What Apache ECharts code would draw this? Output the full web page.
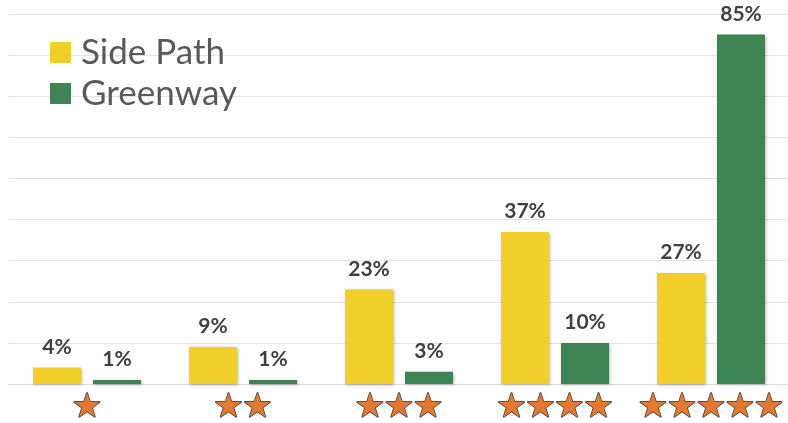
<!DOCTYPE html>
<html><head><meta charset="utf-8">
<script src="https://cdn.jsdelivr.net/npm/echarts@6/dist/echarts.min.js"></script>
<style>html,body{margin:0;padding:0;background:#fff}#c{width:788px;height:423px}</style>
</head><body><div id="c"></div>
<script>
const starCounts = [1, 2, 3, 4, 5];
const sidePath = [4, 9, 23, 37, 27];
const greenway = [1, 1, 3, 10, 85];
const seriesNames = ['Side Path', 'Greenway'];

const chart = echarts.init(document.getElementById('c'));
const labelStyle = {
  show: true, position: 'top', distance: 10,
  formatter: p => p.value + '%',
  fontFamily: 'Lato', fontWeight: 'bold', fontSize: 21, color: '#404040'
};
chart.setOption({
  animation: false,
  grid: { left: 9, right: -1, top: 14, bottom: 39, outerBoundsMode: 'none', containLabel: false },
  legend: {
    orient: 'vertical', left: 50, top: 35, padding: 0,
    itemWidth: 21, itemHeight: 21, itemGap: 6,
    icon: 'rect',
    textStyle: { fontFamily: 'Lato', fontSize: 35, color: '#595959', padding: [0, 0, 0, 5] },
    data: seriesNames
  },
  xAxis: {
    type: 'category',
    data: starCounts.map(String),
    axisLine: { show: true, lineStyle: { color: '#D9D9D9' } },
    axisTick: { show: false },
    axisLabel: {
      interval: 0,
      margin: 7,
      formatter: v => '{s|★}'.repeat(Number(v)),
      rich: {
        s: { width: 29, align: 'center', fontFamily: 'DejaVu Sans', fontSize: 34,
             color: '#E57A2E', textBorderColor: '#2E3B5E', textBorderWidth: 1.5 }
      }
    }
  },
  yAxis: {
    type: 'value', min: 0, max: 90, interval: 10,
    axisLabel: { show: false },
    axisLine: { show: false },
    axisTick: { show: false },
    splitLine: { lineStyle: { color: '#E3E3E3', width: 1 } }
  },
  series: [
    { name: seriesNames[0], type: 'bar', data: sidePath, barWidth: 48, barGap: '25%',
      itemStyle: { color: '#F0CF2A', shadowColor: 'rgba(0,0,0,0.3)', shadowBlur: 3, shadowOffsetX: 1, shadowOffsetY: 1 },
      label: labelStyle },
    { name: seriesNames[1], type: 'bar', data: greenway, barWidth: 48,
      itemStyle: { color: '#3E8454', shadowColor: 'rgba(0,0,0,0.3)', shadowBlur: 3, shadowOffsetX: 1, shadowOffsetY: 1 },
      label: labelStyle }
  ]
});
</script></body></html>
